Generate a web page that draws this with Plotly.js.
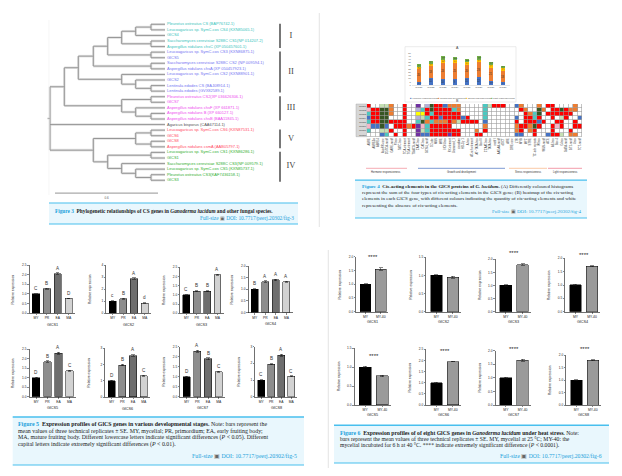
<!DOCTYPE html>
<html><head><meta charset="utf-8">
<script src="https://cdn.plot.ly/plotly-3.0.1.min.js"></script>
<style>html,body{margin:0;padding:0;background:#fff}#chart{width:622px;height:476px}</style>
</head><body><div id="chart"></div>
<script>
// ================= DATA =================
// Figure 3 – phylogenetic tree
const leafLabels = [
 'Pleurotus ostreatus CS (BAP76742.1)','Leucoagaricus sp. SymC.cos CS4 (KXN85065.1)','GlCS4',
 'Saccharomyces cerevisiae S288C CS1(NP 014207.2)','Aspergillus nidulans chsC (XP 050457601.1)',
 'Leucoagaricus sp. SymC.cos CS3 (KXN86875.1)','GlCS5','Saccharomyces cerevisiae S288C CS2 (NP 009594.1)',
 'Aspergillus nidulans chsA (XP 050457923.1)','Leucoagaricus sp. SymC.cos CS2 (KXN88901.1)','GlCS2',
 'Lentinula edodes CS (BAJ08914.1)','Lentinula edodes (GVX82589.1)',
 'Pleurotus ostreatus CS2(XP 036626306.1)','GlCS7','Aspergillus nidulans chsF (XP 661871.1)',
 'Aspergillus nidulans B (XP 660127.1)','Aspergillus nidulans chsB (BAA11845.1)',
 'Agaricus bisporus (CAA67114.1)',
 'Leucoagaricus sp. SymC.cos CS6 (KXN87531.1)','GlCS6','GlCS8','Aspergillus nidulans csmA (AAB05797.1)',
 'Leucoagaricus sp. SymC.cos CS1 (KXN86286.1)','GlCS1','Saccharomyces cerevisiae S288C CS3(NP 009579.1)',
 'Leucoagaricus sp. SymC.cos CS5 (KXN85737.1)','Pleurotus ostreatus CS3(KAF7436158.1)','GlCS3'];
const leafGroup = ['I','I','I','I','I','II','II','II','II','II','II','II','II',
 'III','III','III','III','III','X','V','V','V','V','IV','IV','IV','IV','IV','IV'];
// [node depth, children...]; numbers = leaf index
const treeTopology = [0.15,
  [0.58,
    [1.00,
      [1.45,
        [1.88,
          [2.30, [2.72, [3.18, 0, 1], 2], [3.18, 3, 4]],
          [3.18, 5, 6]],
        [3.18, 7, 8]],
      [2.30, 9, [2.72, 10, [3.18, 11, 12]]]],
    [2.30, [3.18, 13, 14], [2.72, 15, [3.18, 16, 17]]]],
  18,
  [1.45,
    [2.72, [3.18, 19, 20], [3.18, 21, 22]],
    [1.88, [3.18, 23, 24], [2.30, 25, [2.72, 26, [3.18, 27, 28]]]]]];
const leafDepth = 3.60;
const cladeNames = ['I','II','III','V','IV'];
const cladeFirstLeaf = [0, 5, 13, 19, 23];
const cladeLastLeaf = [4, 12, 17, 22, 28];
const scaleBarLabel = '0.6';

// Figure 4A – stacked cis-element counts
const cisGenes = ['GlCS1','GlCS2','GlCS3','GlCS4','GlCS5','GlCS6','GlCS7','GlCS8'];
const cisTypes = ['Hormone responsiveness','Growth and development','Stress responsiveness','Light responsiveness'];
const cisHormone = [5, 11, 10, 9, 11, 12, 6, 4];
const cisGrowth  = [20, 18, 24, 25, 20, 23, 21, 18];
const cisStress  = [3, 4, 5, 4, 4, 4, 4, 4];
const cisLight   = [4, 4, 6, 5, 5, 6, 5, 4];

// Figure 4B – heatmap (colour level per cell)
const heatRows = ['GlCS1','GlCS2','GlCS3','GlCS4','GlCS5','GlCS6','GlCS7','GlCS8'];
const heatCols = ['ABRE','ABRE3a','ABRE4','AuxRR-core','CGTCA-motif','GARE-motif','P-box','TATC-box','TCA-element',
 'TGA-element','TGACG-motif','CAAT-box','CAT-box','GCN4_motif','O2-site','MBS','MRE','NON-box','RY-element',
 'Unnamed_1','circadian','HD-Zip 1','A-box','AT-rich element','AT~TATA-box','Box III','CCAAT-box','TATA-box',
 'motif I','AAGAA-motif','dOCT','ARE','DRE core','LTR','MYB','MYC','STRE','TC-rich repeats','W box','WUN-motif',
 'ACE','AE-box','Box 4','G-box','GATA-motif','GT1-motif','I-box','TCT-motif'];
const heatLevelCodes = ['W','R','G','C','B','P','O','Y','L','K','S'];
const heatCells = [
 'R W W L L O W W R W W P W S G R R B O O O W W W W W C L R R R W W B O W W W O W R R W W W W O W',
 'K R R G G O W W R W W S C R G R R R R C O W W W W W C W W W W W W W R O W W G O W R R G R O O W',
 'C R R G G O W W R W W Y Y R C R R R R R R W W W W W C W W W W W W W W R O C G W R R R R R R W W',
 'B R R G G W W W R W W S L C R R B R R R R B R W W W C W W W W W W B W R R C R W W R W L R W W B',
 'C R R G G R R R R W W C G O C O O O R O L R R R R W B W W W W W W R W R R R B R W W R R W W R W',
 'K B B G B W R R R O R P K C R R R R R W W W W W W W O W W W W W W O R R O G R W W R K R W W R R',
 'C W W L L R W W R W W P L C R R R R R R R W W W O W R W W W W W W O R W O R W W W R W W W R W W',
 'W W W B C W R W R W W P B B R R R R P R R W W W R R W W W W W W W B B W W R W W B R R L W O O W'];

// Figure 5 – developmental stages
const stages = ['MY','PR','EA','MA'];
const devGenes = ['GlCS1','GlCS2','GlCS3','GlCS4','GlCS5','GlCS6','GlCS7','GlCS8'];
const devMeans = [[1.00,1.27,2.05,0.77],[1.00,1.22,2.88,0.85],[1.00,1.20,1.20,2.10],[1.00,1.33,1.40,1.33],
                  [1.00,1.85,2.30,1.37],[1.00,1.97,2.55,1.32],[1.00,2.28,1.90,1.25],[1.00,1.95,2.48,1.22]];
const devErr = [[0.02,0.03,0.04,0.02],[0.04,0.04,0.06,0.03],[0.02,0.03,0.03,0.03],[0.02,0.03,0.03,0.02],
                [0.02,0.04,0.05,0.03],[0.03,0.04,0.05,0.03],[0.02,0.05,0.04,0.03],[0.03,0.04,0.06,0.03]];
const devLetters = [['C','B','A','D'],['c','B','A','d'],['C','B','B','A'],['B','A','A','A'],
                    ['D','B','A','C'],['D','B','A','C'],['D','A','B','C'],['C','B','A','C']];
const devAxisMax = [2.5, 4, 2.5, 2.0, 2.5, 3, 2.5, 3];
const devAxisStep = [0.5, 1, 0.5, 0.5, 0.5, 1, 0.5, 1];

// Figure 6 – heat stress
const conditions = ['MY','MY-40'];
const heatGenes = ['GlCS1','GlCS2','GlCS3','GlCS4','GlCS5','GlCS6','GlCS7','GlCS8'];
const heatMeans = [[1.00,1.55],[1.00,0.95],[1.00,1.80],[1.00,1.70],[1.00,0.77],[1.00,1.95],[1.00,1.65],[1.00,1.80]];
const heatErr = [[0.02,0.04],[0.02,0.03],[0.02,0.03],[0.02,0.02],[0.02,0.02],[0.02,0.02],[0.02,0.03],[0.02,0.02]];
const heatSig = ['****','','****','****','****','****','****','****'];
const heatAxisMax = [2.0, 1.5, 2.0, 2.0, 1.5, 2.5, 2.0, 2.0];

// ================= BUILD =================
const W = 622, H = 476;
const PX = p => p / W, PY = p => 1 - p / H;
const traces = [];
const layout = {
  width: W, height: H, margin: {l:0, r:0, t:0, b:0},
  paper_bgcolor: '#ffffff', plot_bgcolor: 'rgba(0,0,0,0)', showlegend: false, barmode: 'stack',
  font: {family: 'Liberation Sans, Arial, sans-serif', size: 4, color: '#222'},
  shapes: [], annotations: []
};
const ann = layout.annotations, shp = layout.shapes;
function pA(x, y, text, o) { ann.push(Object.assign({xref:'paper', yref:'paper', x:PX(x), y:PY(y), text, showarrow:false, xanchor:'center', yanchor:'middle'}, o||{})); }
function pLine(x0,y0,x1,y1,color,width,layer) { shp.push({type:'line', xref:'paper', yref:'paper', x0:PX(x0), y0:PY(y0), x1:PX(x1), y1:PY(y1), line:{color, width}, layer: layer||'above'}); }
function pRect(x0,y0,x1,y1,fill,lineColor,lineWidth,layer) { shp.push({type:'rect', xref:'paper', yref:'paper', x0:PX(x0), y0:PY(y1), x1:PX(x1), y1:PY(y0), fillcolor:fill, line:{color:lineColor||'rgba(0,0,0,0)', width:lineWidth||0}, layer: layer||'below'}); }

// ---------- Figure 3 tree ----------
const groupColor = {I:'#38c4bc', II:'#7474f2', III:'#ee4cee', X:'#555555', V:'#ff4a64', IV:'#33b033'};
const segs = [];
function layoutTree(node, parentDepth) {
  if (typeof node === 'number') { segs.push([parentDepth, node, leafDepth, node]); return node; }
  const d = node[0], kids = node.slice(1);
  const ys = kids.map(k => layoutTree(k, d));
  const y = (ys[0] + ys[ys.length-1]) / 2;
  segs.push([d, ys[0], d, ys[ys.length-1]]);
  segs.push([parentDepth, y, d, y]);
  return y;
}
layoutTree(treeTopology, 0.08);
const tx = [], ty = [];
segs.forEach(s => { tx.push(s[0], s[2], null); ty.push(s[1], s[3], null); });
traces.push({type:'scatter', mode:'lines', x:tx, y:ty, xaxis:'x', yaxis:'y', line:{color:'#e2e2e2', width:2.6}, hoverinfo:'skip'});
traces.push({type:'scatter', mode:'lines', x:tx, y:ty, xaxis:'x', yaxis:'y', line:{color:'#8f8f8f', width:0.9}, hoverinfo:'skip'});
traces.push({type:'scatter', mode:'text', x:leafLabels.map(()=>leafDepth + 0.06), y:leafLabels.map((_,i)=>i),
  text:leafLabels, textposition:'middle right', cliponaxis:false,
  textfont:{size:4, color:leafGroup.map(g=>groupColor[g]), family:'Liberation Sans, Arial'}, xaxis:'x', yaxis:'y', hoverinfo:'skip'});
// clade brackets + numerals
const bx = [], by = [];
cladeNames.forEach((c,i) => { bx.push(7.05, 7.05, null); by.push(cladeFirstLeaf[i]-0.1, cladeLastLeaf[i]+0.25, null); });
traces.push({type:'scatter', mode:'lines', x:bx, y:by, xaxis:'x', yaxis:'y', line:{color:'#555', width:1.6}, cliponaxis:false, hoverinfo:'skip'});
traces.push({type:'scatter', mode:'text', x:cladeNames.map(()=>7.38), y:cladeNames.map((c,i)=>(cladeFirstLeaf[i]+cladeLastLeaf[i])/2),
  text:cladeNames, textfont:{size:8.5, color:'#444', family:'Liberation Serif, serif'}, xaxis:'x', yaxis:'y', cliponaxis:false, hoverinfo:'skip'});
// scale bar
traces.push({type:'scatter', mode:'lines', x:[0.3, 3.39], y:[30.3, 30.3], xaxis:'x', yaxis:'y', line:{color:'#aaa', width:1.3}, hoverinfo:'skip'});
traces.push({type:'scatter', mode:'text', x:[1.85], y:[31.2], text:[scaleBarLabel], textfont:{size:3, color:'#555'}, xaxis:'x', yaxis:'y', cliponaxis:false, hoverinfo:'skip'});
layout.xaxis = {domain:[PX(45), PX(300)], range:[0, 7.65], visible:false, fixedrange:true};
layout.yaxis = {domain:[PY(200), PY(18)], range:[31.54, -1.13], visible:false, fixedrange:true};
pLine(49, 20, 49, 195, '#f0f0f0', 0.6);

// caption Fig 3
pRect(49, 202.7, 298, 224, '#e9f7fd');
pLine(49, 203, 298, 203, '#48bfee', 1.2);
pLine(49, 224, 298, 224, '#48bfee', 1.2);
const capFont = (s) => ({family:'Liberation Serif, Times New Roman, serif', size:s, color:'#222'});
const BL = '#1b9fdb';
const fullSize = (n) => `<span style="color:${BL}">Full-size</span> <span style="color:#666">▣</span> <span style="color:${BL}">DOI: 10.7717/peerj.20302/fig-${n}</span>`;
pA(53, 210.7, `<span style="color:${BL}"><b>Figure 3</b></span>\u00a0\u00a0<b>Phylogenetic relationships of CS genes in <i>Ganoderma lucidum</i> and other fungal species.</b>`, {xanchor:'left', font:capFont(5.3)});
pA(296, 218.3, fullSize(3), {xanchor:'right', font:capFont(5.3)});

// ---------- Figure 4 ----------
pLine(319.3, 13, 319.3, 227, '#dddddd', 0.8);
pRect(405, 46.7, 516, 102, 'rgba(0,0,0,0)', '#dedede', 0.6, 'above');
pA(457.5, 48.5, 'A', {font:{size:3.6, color:'#444'}});
const cisColors = ['#4472c4','#ed7d31','#ffc000','#70ad47'];
[cisHormone, cisGrowth, cisStress, cisLight].forEach((arr, k) => {
  traces.push({type:'bar', x:cisGenes, y:arr, name:cisTypes[k], xaxis:'x2', yaxis:'y2', width:0.36,
    marker:{color:cisColors[k], line:{width:0}}, text:arr.map(String), textposition:'inside', insidetextanchor:'middle',
    constraintext:'none', textfont:{size:2.6, color:'#333'}, hoverinfo:'skip'});
});
layout.xaxis2 = {domain:[PX(411.7), PX(510)], anchor:'y2', type:'category', showline:true, linecolor:'#d0d0d0', linewidth:0.5,
  ticks:'', tickfont:{size:2.4, color:'#555'}, showgrid:false, range:[-0.6, 7.6]};
layout.yaxis2 = {domain:[PY(85), PY(52.7)], anchor:'x2', range:[0, 50], dtick:5, tickfont:{size:2.3, color:'#555'},
  showgrid:false, showline:false, ticks:'', zeroline:false};
const legX = [408, 436, 464.3, 488.7];
cisTypes.forEach((t,k) => pA(legX[k], 97.7, `<span style="color:${cisColors[k]}">■</span> ${t}`, {xanchor:'left', font:{size:2.3, color:'#555'}}));
pA(457.5, 101.2, 'B', {font:{size:3.6, color:'#444'}});

// heatmap
const heatPalette = ['#ffffff','#ff0000','#375623','#4cc8c0','#4472c4','#7030a0','#ed7d31','#ffff00','#c5e0b3','#f4b6c8','#b4b0d6'];
const nC = heatPalette.length;
const heatScale = [];
heatPalette.forEach((c,i) => { heatScale.push([i/nC, c]); heatScale.push([(i+1)/nC, c]); });
const heatZ = heatCells.map(r => r.split(' ').map(ch => heatLevelCodes.indexOf(ch)));
pRect(367, 104, 582, 136.7, '#9d9d9d');
pRect(356, 104, 367, 136.7, '#d6d6d6', '#9d9d9d', 0.4);
traces.push({type:'heatmap', z:heatZ, x:heatCols, y:heatRows, xaxis:'x3', yaxis:'y3', colorscale:heatScale,
  zmin:-0.5, zmax:nC-0.5, showscale:false, xgap:0.6, ygap:0.6, hoverinfo:'skip'});
layout.xaxis3 = {domain:[PX(367), PX(582)], anchor:'y3', type:'category', tickangle:-90, tickfont:{size:2.7, color:'#333'},
  ticks:'', showgrid:false, showline:false, zeroline:false};
layout.yaxis3 = {domain:[PY(136.7), PY(104)], anchor:'x3', type:'category', autorange:'reversed', tickfont:{size:2.4, color:'#444'},
  ticks:'', showgrid:false, showline:false, zeroline:false, ticklabelstandoff:0.5};
// element group lines
const grp = [[366,407,'#f4a2aa','Hormone responsiveness'],[418,505,'#6e8fce','Growth and development'],
             [509,547,'#f9c49c','Stress responsiveness'],[548,582,'#f291a0','Light responsiveness']];
grp.forEach(g => { pLine(g[0],168.3,g[1],168.3,g[2],0.9); pA((g[0]+g[1])/2, 172, g[3], {font:{size:2.6, color:'#333'}}); });

// caption Fig 4
pRect(355, 180, 587, 218, '#e9f7fd');
pLine(355, 180.2, 587, 180.2, '#48bfee', 1.2);
pLine(355, 218, 587, 218, '#48bfee', 1.2);
const f4 = [
 `<span style="color:${BL}"><b>Figure 4</b></span>\u00a0\u00a0<b>Cis-acting elements in the GlCS proteins of <i>G. lucidum</i>.</b> (A) Differently coloured histograms`,
 'represent the sum of the four types of cis-acting elements in the GlCS gene; (B) heatmap of the cis-acting',
 'elements in each GlCS gene, with different colours indicating the quantity of cis-acting elements and white',
 'representing the absence of cis-acting elements.'];
[186.7, 192.9, 199, 205.2].forEach((y,i) => pA(360.3, y, f4[i], {xanchor:'left', font:capFont(5)}));
pA(584, 211.8, fullSize(4), {xanchor:'right', font:capFont(5)});

// ---------- Figure 5 bar panels ----------
const devGeom = [[29.3,75,265,313.3],[106,151,265,313.3],[180,223.5,267.3,313.3],[248.3,292.5,266,312.5],
                 [29.3,76,349.3,396.7],[105,150,348.3,397],[180,225,346.7,396.7],[255,297,346.7,396.7]];
const devColors = ['#000000','#8d8d8d','#6e6e6e','#d2d2d2'];
const axisCommon = {showline:true, linecolor:'#111', linewidth:0.6, ticks:'outside', ticklen:1.5, tickwidth:0.5, tickcolor:'#111',
  showgrid:false, zeroline:false, fixedrange:true};
let ax = 4;
devGenes.forEach((g, i) => {
  const n = ax++, gm = devGeom[i];
  traces.push({type:'bar', x:stages, y:devMeans[i], xaxis:'x'+n, yaxis:'y'+n, width:0.67,
    marker:{color:devColors, line:{color:'#000', width:0.5}},
    error_y:{type:'data', array:devErr[i], color:'#111', thickness:0.5, width:1.6}, hoverinfo:'skip'});
  layout['xaxis'+n] = Object.assign({}, axisCommon, {domain:[PX(gm[0]), PX(gm[1])], anchor:'y'+n, type:'category', range:[-0.62, 3.58],
    tickfont:{size:3.3, color:'#222'}});
  layout['yaxis'+n] = Object.assign({}, axisCommon, {domain:[PY(gm[3]), PY(gm[2])], anchor:'x'+n, range:[0, devAxisMax[i]],
    dtick:devAxisStep[i], tickformat: devAxisStep[i] < 1 ? '.1f' : 'd', tickfont:{size:3.2, color:'#222'}});
  stages.forEach((s, j) => ann.push({xref:'x'+n, yref:'y'+n, x:s, y:devMeans[i][j] + devErr[i][j], text:devLetters[i][j],
    showarrow:false, yanchor:'bottom', yshift:0.3, font:{size:4.6, color:'#333'}}));
  pA((gm[0]+gm[1])/2, gm[3] + 11.5, g, {font:{size:3.8, color:'#222'}});
  pA(gm[0] - 16, (gm[2]+gm[3])/2, 'Relative expression', {textangle:-90, font:{size:3.4, color:'#222'}});
});

// caption Fig 5
pRect(12.7, 416.7, 304, 465, '#e9f7fd');
pLine(12.7, 417, 304, 417, '#48bfee', 1.4);
pLine(12.7, 465, 304, 465, '#48bfee', 1.2);
const f5 = [
 `<span style="color:${BL}"><b>Figure 5</b></span>\u00a0\u00a0<b>Expression profiles of GlCS genes in various developmental stages.</b> Note: bars represent the`,
 'mean values of three technical replicates ± SE. MY, mycelial; PR, primordium; EA, early fruiting body;',
 'MA, mature fruiting body. Different lowercase letters indicate significant differences (<i>P</i> < 0.05). Different',
 'capital letters indicate extremely significant differences (<i>P</i> < 0.01).'];
[424.3, 431, 437.7, 444.3].forEach((y,i) => pA(16, y, f5[i], {xanchor:'left', font:capFont(5.9)}));
pA(299, 456, fullSize(5), {xanchor:'right', font:capFont(5.9)});

// ---------- Figure 6 bar panels ----------
pLine(328.3, 250, 328.3, 468, '#dddddd', 0.8);
const hsGeom = [[356,388.3,256.7,311.7],[426,461,257.3,311.7],[495.3,531,259.3,311.7],[565,600.3,258.3,311.7],
                [354.3,391,348.3,405],[426,461,349.3,405],[495.3,531,350.7,405],[566,601,355,405]];
const hsColors = ['#000000','#9a9a9a'];
heatGenes.forEach((g, i) => {
  const n = ax++, gm = hsGeom[i];
  traces.push({type:'bar', x:conditions, y:heatMeans[i], xaxis:'x'+n, yaxis:'y'+n, width:0.7,
    marker:{color:hsColors, line:{color:'#000', width:0.5}},
    error_y:{type:'data', array:heatErr[i], color:'#111', thickness:0.5, width:2}, hoverinfo:'skip'});
  layout['xaxis'+n] = Object.assign({}, axisCommon, {domain:[PX(gm[0]), PX(gm[1])], anchor:'y'+n, type:'category', range:[-0.63, 1.5],
    tickfont:{size:3.4, color:'#222'}});
  layout['yaxis'+n] = Object.assign({}, axisCommon, {domain:[PY(gm[3]), PY(gm[2])], anchor:'x'+n, range:[0, heatAxisMax[i]],
    dtick:0.5, tickformat:'.1f', tickfont:{size:3.2, color:'#222'}});
  if (heatSig[i]) {
    const top = Math.max(...heatMeans[i].map((v,j)=>v + heatErr[i][j]));
    ann.push({xref:'x'+n, yref:'y'+n, x:0.5, y:top, text:heatSig[i], showarrow:false, yanchor:'middle', yshift:10.5,
      font:{size:6, color:'#222'}});
  }
  pA((gm[0]+gm[1])/2, gm[3] + 10.3, g, {font:{size:3.8, color:'#222'}});
  pA(gm[0] - 15.7, (gm[2]+gm[3])/2, 'Relative expression', {textangle:-90, font:{size:3.4, color:'#222'}});
});

// caption Fig 6
pRect(334, 425, 609, 463, '#e9f7fd');
pLine(334, 425.2, 609, 425.2, '#48bfee', 1.4);
pLine(334, 463, 609, 463, '#48bfee', 1.2);
const f6 = [
 `<span style="color:${BL}"><b>Figure 6</b></span>\u00a0\u00a0<b>Expression profiles of of eight GlCS genes in <i>Ganoderma lucidum</i> under heat stress.</b> Note:`,
 'bars represent the mean values of three technical replicates ± SE. MY, mycelial at 25 °C; MY-40: the',
 'mycelial incubated for 6 h at 40 °C. **** indicate extremely significant difference (<i>P</i> < 0.0001).'];
[432.7, 439, 445.2].forEach((y,i) => pA(337.7, y, f6[i], {xanchor:'left', font:capFont(5.7)}));
pA(604.3, 456, fullSize(6), {xanchor:'right', font:capFont(5.7)});

Plotly.newPlot('chart', traces, layout, {staticPlot:true, displayModeBar:false});
</script></body></html>
